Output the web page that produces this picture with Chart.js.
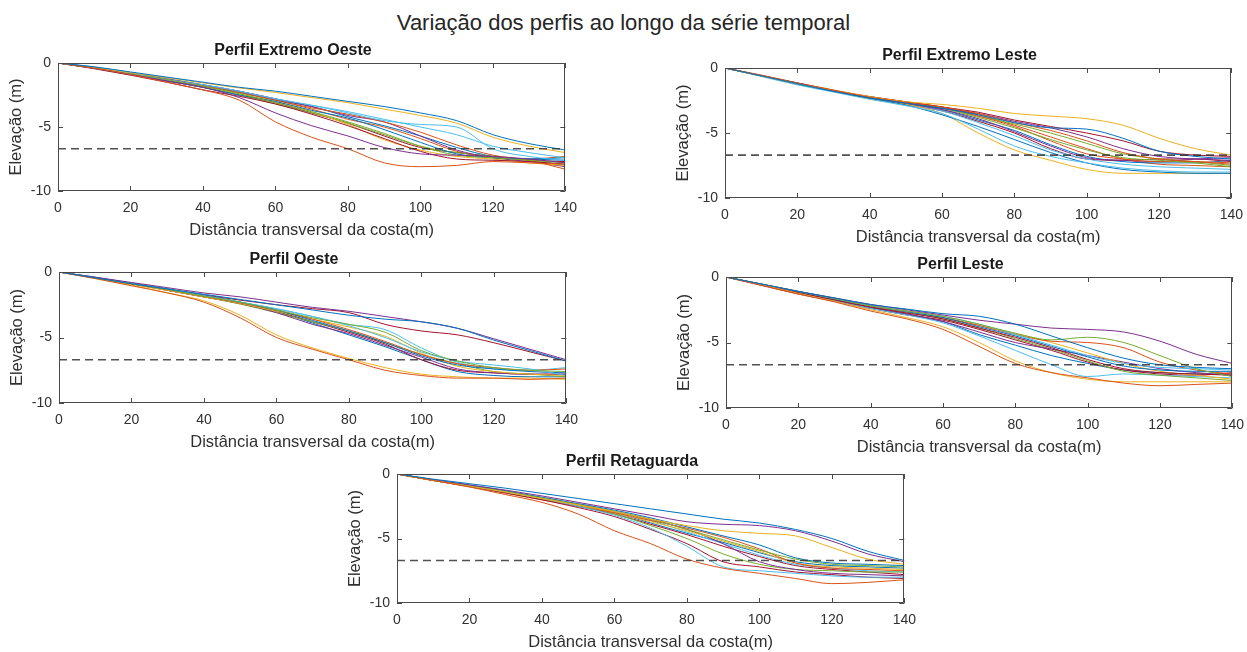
<!DOCTYPE html>
<html lang="pt">
<head>
<meta charset="utf-8">
<title>Variação dos perfis ao longo da série temporal</title>
<script src="https://cdn.jsdelivr.net/npm/chart.js@4.4.1/dist/chart.umd.min.js"></script>
<style>
  html, body { margin: 0; padding: 0; background: #fff; }
  #pagina { position: relative; width: 1247px; height: 652px; overflow: hidden; font-family: "Liberation Sans", Arial, sans-serif; }
  #titulo-geral { position: absolute; left: 0; width: 1247px; top: 10px; line-height: 26px; text-align: center; font-size: 22px; color: #262626; }
  .painel { position: absolute; }
</style>
</head>
<body>
<div id="pagina">
  <div id="titulo-geral">Variação dos perfis ao longo da série temporal</div>
  <div class="painel" id="p1"><canvas id="c1"></canvas></div>
  <div class="painel" id="p2"><canvas id="c2"></canvas></div>
  <div class="painel" id="p3"><canvas id="c3"></canvas></div>
  <div class="painel" id="p4"><canvas id="c4"></canvas></div>
  <div class="painel" id="p5"><canvas id="c5"></canvas></div>
</div>
<script>
// --- 1. Dados (distância em m, cota em m) ---
const distancias = [0, 10, 20, 30, 40, 50, 60, 70, 80, 90, 100, 110, 120, 130, 140];
const marcasX = [0, 20, 40, 60, 80, 100, 120, 140];
const marcasY = [-10, -5, 0];
const nivelReferencia = -6.7;

const perfilExtremoOeste = [
    [0, -0.3, -0.7, -1.1, -1.5, -1.9, -2.2, -2.6, -3.0, -3.4, -3.9, -4.5, -5.6, -6.3, -6.8],
    [0, -0.4, -0.9, -1.5, -2.1, -2.9, -4.6, -5.8, -6.7, -7.8, -8.1, -8.0, -7.7, -7.8, -7.9],
    [0, -0.35, -0.75, -1.15, -1.55, -1.95, -2.3, -2.7, -3.1, -3.6, -4.1, -4.7, -5.8, -6.5, -7.0],
    [0, -0.4, -0.9, -1.4, -1.9, -2.7, -3.9, -4.9, -5.7, -6.6, -7.1, -7.2, -7.3, -7.5, -7.8],
    [0, -0.4, -0.85, -1.3, -1.8, -2.4, -3.1, -3.8, -4.6, -5.5, -6.5, -7.2, -7.4, -7.6, -7.8],
    [0, -0.35, -0.8, -1.3, -1.7, -2.2, -2.8, -3.3, -3.9, -4.5, -4.8, -5.0, -6.7, -7.3, -7.6],
    [0, -0.45, -0.95, -1.5, -2.1, -2.6, -3.2, -4.0, -4.9, -5.9, -6.9, -7.5, -7.6, -7.7, -7.9],
    [0, -0.4, -0.9, -1.4, -1.9, -2.5, -3.0, -3.7, -4.3, -5.2, -6.2, -7.1, -7.4, -7.5, -7.6],
    [0, -0.4, -0.85, -1.3, -1.8, -2.3, -2.9, -3.5, -4.0, -4.6, -5.4, -6.4, -7.2, -7.6, -8.3],
    [0, -0.4, -0.9, -1.35, -1.85, -2.4, -3.0, -3.8, -4.8, -6.0, -6.8, -7.3, -7.5, -7.8, -8.0],
    [0, -0.35, -0.8, -1.25, -1.7, -2.2, -2.8, -3.4, -4.1, -4.6, -5.7, -6.8, -7.4, -7.7, -8.1],
    [0, -0.4, -0.9, -1.4, -1.9, -2.5, -3.2, -3.9, -4.7, -5.6, -6.5, -7.0, -7.3, -7.6, -8.0],
    [0, -0.3, -0.75, -1.2, -1.7, -2.2, -2.8, -3.3, -3.8, -4.4, -5.0, -5.6, -6.5, -7.0, -7.4],
    [0, -0.4, -0.9, -1.4, -1.9, -2.5, -3.1, -3.9, -4.7, -5.7, -6.6, -7.0, -7.3, -7.6, -7.7],
    [0, -0.4, -0.85, -1.35, -1.85, -2.3, -2.9, -3.4, -4.2, -4.9, -5.7, -6.6, -7.3, -7.5, -7.4],
    [0, -0.35, -0.8, -1.3, -1.75, -2.3, -2.9, -3.6, -4.4, -5.0, -5.9, -6.9, -7.4, -7.5, -7.3]
];

const perfilExtremoLeste = [
    [0, -0.6, -1.2, -1.8, -2.3, -2.7, -3.1, -3.6, -4.2, -4.6, -4.7, -5.4, -6.4, -6.8, -7.0],
    [0, -0.55, -1.15, -1.7, -2.25, -2.65, -3.0, -3.5, -4.2, -4.8, -5.6, -6.5, -7.0, -7.2, -7.4],
    [0, -0.6, -1.2, -1.7, -2.2, -2.6, -2.8, -3.1, -3.5, -3.7, -3.9, -4.4, -5.4, -6.2, -6.7],
    [0, -0.6, -1.2, -1.75, -2.3, -2.7, -3.1, -3.5, -4.1, -4.6, -5.3, -6.2, -6.8, -7.0, -7.1],
    [0, -0.6, -1.2, -1.75, -2.3, -2.7, -3.1, -3.8, -4.6, -5.5, -6.3, -6.9, -7.1, -7.3, -7.6],
    [0, -0.65, -1.3, -1.85, -2.4, -2.9, -3.5, -4.7, -6.0, -6.8, -7.3, -7.7, -7.9, -8.0, -8.0],
    [0, -0.6, -1.15, -1.75, -2.2, -2.6, -3.0, -3.4, -4.0, -4.5, -5.0, -5.6, -6.4, -6.7, -6.8],
    [0, -0.6, -1.25, -1.8, -2.35, -2.85, -3.6, -4.5, -5.5, -6.5, -7.3, -7.8, -8.0, -8.1, -8.1],
    [0, -0.55, -1.15, -1.7, -2.2, -2.6, -3.0, -3.7, -4.5, -5.6, -6.6, -7.0, -7.2, -7.2, -7.3],
    [0, -0.6, -1.25, -1.8, -2.4, -2.8, -3.5, -5.0, -6.3, -7.1, -7.8, -8.1, -8.1, -8.1, -8.1],
    [0, -0.6, -1.2, -1.8, -2.3, -2.75, -3.2, -3.9, -4.9, -6.0, -6.9, -7.1, -7.2, -7.0, -6.9],
    [0, -0.6, -1.2, -1.75, -2.3, -2.7, -3.1, -3.7, -4.3, -5.0, -5.8, -6.6, -7.0, -7.2, -7.5],
    [0, -0.6, -1.2, -1.8, -2.35, -2.8, -3.3, -4.2, -5.2, -6.3, -7.0, -7.4, -7.6, -7.7, -7.8],
    [0, -0.6, -1.2, -1.8, -2.3, -2.8, -3.3, -4.1, -5.0, -6.2, -7.0, -7.1, -7.0, -7.0, -7.2],
    [0, -0.6, -1.2, -1.75, -2.25, -2.7, -3.2, -4.0, -4.8, -5.9, -6.8, -7.2, -7.3, -7.3, -7.1],
    [0, -0.6, -1.2, -1.75, -2.3, -2.7, -3.0, -3.6, -4.4, -5.3, -6.2, -7.0, -7.4, -7.5, -7.6]
];

const perfilOeste = [
    [0, -0.45, -0.9, -1.3, -1.7, -2.1, -2.5, -2.9, -3.3, -3.6, -3.8, -4.3, -5.2, -6.0, -6.8],
    [0, -0.5, -1.05, -1.6, -2.3, -3.5, -5.0, -5.9, -6.7, -7.5, -7.9, -8.1, -8.1, -8.2, -8.1],
    [0, -0.5, -1.0, -1.6, -2.2, -3.3, -4.8, -5.8, -6.6, -7.3, -7.8, -8.0, -8.1, -8.1, -8.2],
    [0, -0.4, -0.8, -1.2, -1.6, -1.9, -2.3, -2.7, -3.0, -3.4, -3.8, -4.3, -5.1, -5.9, -6.7],
    [0, -0.45, -0.9, -1.35, -1.85, -2.3, -2.9, -3.5, -4.0, -4.6, -6.0, -6.8, -7.3, -7.5, -7.6],
    [0, -0.4, -0.85, -1.3, -1.8, -2.3, -2.8, -3.4, -4.1, -5.0, -6.1, -6.8, -7.1, -7.4, -7.9],
    [0, -0.45, -0.9, -1.3, -1.75, -2.15, -2.5, -2.8, -3.1, -4.0, -4.5, -4.8, -5.4, -6.1, -6.8],
    [0, -0.4, -0.85, -1.3, -1.8, -2.3, -2.9, -3.7, -4.5, -5.4, -6.4, -7.1, -7.4, -7.6, -7.7],
    [0, -0.45, -0.9, -1.35, -1.85, -2.35, -2.9, -3.6, -4.4, -5.3, -6.3, -7.0, -7.3, -7.5, -7.4],
    [0, -0.45, -0.95, -1.4, -1.9, -2.4, -3.0, -3.6, -4.2, -4.9, -6.2, -7.2, -7.6, -7.8, -7.9],
    [0, -0.45, -0.9, -1.4, -1.9, -2.4, -3.1, -4.0, -4.7, -5.6, -6.5, -7.4, -7.7, -7.8, -7.8],
    [0, -0.45, -0.9, -1.4, -1.9, -2.45, -3.1, -3.8, -4.5, -5.4, -6.3, -7.0, -7.6, -7.8, -8.0],
    [0, -0.4, -0.85, -1.3, -1.8, -2.3, -2.8, -3.4, -4.0, -4.4, -5.8, -6.9, -7.4, -7.5, -7.3],
    [0, -0.45, -0.9, -1.4, -1.9, -2.4, -3.0, -3.8, -4.6, -5.5, -6.7, -7.5, -7.7, -7.8, -7.8],
    [0, -0.45, -0.9, -1.35, -1.8, -2.3, -3.0, -3.9, -4.8, -5.7, -6.7, -7.6, -7.9, -8.0, -8.0]
];

const perfilLeste = [
    [0, -0.55, -1.1, -1.6, -2.1, -2.45, -2.8, -3.0, -3.6, -4.5, -5.4, -6.2, -6.7, -6.9, -7.0],
    [0, -0.65, -1.3, -1.9, -2.6, -3.2, -4.0, -5.3, -6.6, -7.3, -7.7, -8.1, -8.3, -8.2, -8.1],
    [0, -0.6, -1.25, -1.85, -2.5, -3.1, -3.8, -5.0, -6.4, -7.3, -7.8, -8.0, -8.0, -8.0, -8.0],
    [0, -0.55, -1.1, -1.6, -2.1, -2.5, -2.9, -3.3, -3.6, -3.9, -4.0, -4.2, -4.9, -5.9, -6.6],
    [0, -0.55, -1.1, -1.65, -2.2, -2.6, -3.0, -3.6, -4.3, -4.8, -4.6, -5.0, -6.0, -7.0, -7.6],
    [0, -0.55, -1.1, -1.65, -2.2, -2.6, -3.0, -3.6, -4.4, -5.2, -6.0, -6.6, -6.9, -7.0, -7.1],
    [0, -0.6, -1.2, -1.75, -2.3, -2.75, -3.2, -3.9, -4.6, -5.4, -6.3, -7.0, -7.3, -7.4, -7.5],
    [0, -0.55, -1.15, -1.7, -2.2, -2.65, -3.1, -3.8, -4.5, -5.3, -6.1, -6.8, -7.1, -7.2, -7.2],
    [0, -0.6, -1.2, -1.7, -2.25, -2.65, -3.1, -3.7, -4.4, -4.9, -5.0, -5.4, -6.5, -7.1, -7.4],
    [0, -0.55, -1.1, -1.65, -2.2, -2.6, -3.1, -3.7, -4.3, -5.0, -5.8, -6.6, -7.2, -7.5, -7.8],
    [0, -0.6, -1.2, -1.75, -2.3, -2.8, -3.4, -4.2, -5.0, -5.5, -6.0, -6.5, -7.0, -7.3, -7.5],
    [0, -0.6, -1.15, -1.7, -2.25, -2.7, -3.2, -3.9, -4.7, -5.5, -6.4, -7.2, -7.5, -7.7, -7.9],
    [0, -0.6, -1.2, -1.8, -2.4, -2.9, -3.5, -4.5, -5.6, -6.7, -7.6, -7.4, -7.5, -7.6, -7.7],
    [0, -0.65, -1.3, -1.85, -2.4, -2.9, -3.3, -4.0, -4.8, -5.6, -6.5, -7.1, -7.4, -7.5, -7.3],
    [0, -0.6, -1.2, -1.75, -2.35, -2.85, -3.4, -4.4, -5.2, -6.0, -6.6, -7.1, -7.3, -7.4, -7.4]
];

const perfilRetaguarda = [
    [0, -0.4, -0.75, -1.1, -1.5, -1.9, -2.3, -2.7, -3.1, -3.5, -3.8, -4.3, -5.0, -6.0, -6.7],
    [0, -0.5, -1.0, -1.6, -2.2, -3.1, -4.4, -5.4, -6.6, -7.3, -7.7, -8.1, -8.5, -8.4, -8.2],
    [0, -0.5, -0.95, -1.4, -1.9, -2.4, -2.9, -3.5, -4.0, -4.4, -4.6, -4.8, -5.7, -6.6, -7.0],
    [0, -0.45, -0.85, -1.25, -1.7, -2.2, -2.7, -3.2, -3.7, -3.9, -4.0, -4.4, -5.2, -6.2, -6.8],
    [0, -0.45, -0.9, -1.35, -1.85, -2.35, -2.9, -3.5, -4.3, -5.1, -5.9, -6.6, -7.0, -7.1, -7.2],
    [0, -0.45, -0.9, -1.4, -1.9, -2.5, -3.2, -4.2, -5.6, -7.2, -7.5, -7.7, -7.9, -8.0, -8.0],
    [0, -0.5, -0.95, -1.45, -2.0, -2.6, -3.3, -4.3, -5.4, -6.8, -7.2, -7.6, -7.8, -8.0, -8.1],
    [0, -0.45, -0.85, -1.3, -1.8, -2.3, -2.8, -3.4, -4.1, -4.8, -5.5, -6.5, -6.9, -7.0, -7.1],
    [0, -0.5, -1.0, -1.5, -2.0, -2.5, -3.0, -3.6, -4.2, -4.9, -5.8, -6.9, -7.3, -7.4, -7.5],
    [0, -0.5, -0.95, -1.4, -1.9, -2.4, -3.0, -3.7, -4.4, -5.2, -6.0, -6.9, -7.2, -7.3, -7.4],
    [0, -0.45, -0.9, -1.35, -1.85, -2.35, -2.9, -3.5, -4.3, -5.4, -6.8, -7.4, -7.7, -7.8, -7.9],
    [0, -0.5, -0.95, -1.45, -1.95, -2.45, -3.1, -4.0, -5.0, -6.2, -7.0, -7.4, -7.5, -7.6, -7.6],
    [0, -0.45, -0.9, -1.35, -1.85, -2.35, -2.9, -3.6, -4.5, -5.4, -6.3, -7.0, -7.3, -7.5, -7.6],
    [0, -0.5, -0.95, -1.45, -1.95, -2.5, -3.1, -3.9, -4.7, -5.6, -6.4, -7.1, -7.4, -7.6, -7.8],
    [0, -0.5, -0.95, -1.45, -1.95, -2.5, -3.0, -3.8, -4.6, -5.3, -6.1, -6.8, -7.1, -7.2, -7.3]
];

// --- 2. Aparência e posição de cada painel ---
const coresMatlab = ['#0072BD', '#D95319', '#EDB120', '#7E2F8E', '#77AC30', '#4DBEEE', '#A2142F'];
const fonte = '"Liberation Sans", Arial, sans-serif';
const corTexto = '#303030';

const paineis = [
    { id: 'c1', caixa: 'p1', titulo: 'Perfil Extremo Oeste', perfis: perfilExtremoOeste, area: { x: 58, y: 63, w: 507, h: 128 } },
    { id: 'c2', caixa: 'p2', titulo: 'Perfil Extremo Leste', perfis: perfilExtremoLeste, area: { x: 725, y: 68, w: 506, h: 130 } },
    { id: 'c3', caixa: 'p3', titulo: 'Perfil Oeste', perfis: perfilOeste, area: { x: 59, y: 272, w: 507, h: 131 } },
    { id: 'c4', caixa: 'p4', titulo: 'Perfil Leste', perfis: perfilLeste, area: { x: 726, y: 277, w: 506, h: 131 } },
    { id: 'c5', caixa: 'p5', titulo: 'Perfil Retaguarda', perfis: perfilRetaguarda, area: { x: 397, y: 474, w: 507, h: 129 } }
];

// Moldura fechada com marcas para dentro, como no MATLAB
const caixaMatlab = {
    id: 'caixaMatlab',
    afterDatasetsDraw(chart) {
        const { ctx, chartArea: a, scales: { x, y } } = chart;
        const t = 5;
        ctx.save();
        ctx.strokeStyle = '#4a4a4a';
        ctx.lineWidth = 1;
        ctx.beginPath();
        ctx.rect(Math.round(a.left) + 0.5, Math.round(a.top) + 0.5, Math.round(a.right - a.left) - 1, Math.round(a.bottom - a.top) - 1);
        x.ticks.forEach(tk => {
            const px = Math.round(x.getPixelForValue(tk.value)) + 0.5;
            ctx.moveTo(px, a.bottom); ctx.lineTo(px, a.bottom - t);
            ctx.moveTo(px, a.top); ctx.lineTo(px, a.top + t);
        });
        y.ticks.forEach(tk => {
            const py = Math.round(y.getPixelForValue(tk.value)) + 0.5;
            ctx.moveTo(a.left, py); ctx.lineTo(a.left + t, py);
            ctx.moveTo(a.right, py); ctx.lineTo(a.right - t, py);
        });
        ctx.stroke();
        ctx.restore();
    }
};

function montarDatasets(perfis) {
    const referencia = {
        data: [{ x: distancias[0], y: nivelReferencia }, { x: distancias[distancias.length - 1], y: nivelReferencia }],
        borderColor: 'rgba(50, 50, 50, 0.85)',
        borderWidth: 1.6,
        borderDash: [8, 5],
        pointRadius: 0
    };
    const linhas = perfis.map((cotas, i) => ({
        data: distancias.map((d, j) => ({ x: d, y: cotas[j] })),
        borderColor: coresMatlab[i % coresMatlab.length],
        borderWidth: 1,
        pointRadius: 0,
        cubicInterpolationMode: 'monotone'
    }));
    return [referencia, ...linhas];
}

function desenharPainel(painel) {
    const canvas = document.getElementById(painel.id);
    const caixa = document.getElementById(painel.caixa);
    canvas.width = painel.area.w + 70;
    canvas.height = painel.area.h + 71;

    const grafico = new Chart(canvas, {
        type: 'line',
        data: { datasets: montarDatasets(painel.perfis) },
        options: {
            responsive: false,
            maintainAspectRatio: false,
            animation: false,
            layout: { padding: 0 },
            plugins: {
                legend: { display: false },
                tooltip: { enabled: false },
                title: {
                    display: true,
                    text: painel.titulo,
                    color: '#1a1a1a',
                    font: { family: fonte, size: 16, weight: 'bold', lineHeight: '18px' },
                    padding: { top: 0, bottom: 3 }
                }
            },
            scales: {
                x: {
                    type: 'linear', min: 0, max: 140,
                    afterBuildTicks: s => { s.ticks = marcasX.map(v => ({ value: v })); },
                    afterFit: s => { s.height = 50; },
                    grid: { display: false, drawTicks: false },
                    border: { display: false },
                    ticks: { padding: 9, color: corTexto, maxRotation: 0, autoSkip: false, font: { family: fonte, size: 14 } },
                    title: { display: true, text: 'Distância transversal da costa(m)', color: corTexto, font: { family: fonte, size: 16.5 }, padding: { top: 0, bottom: 1 } }
                },
                y: {
                    min: -10, max: 0,
                    afterBuildTicks: s => { s.ticks = marcasY.map(v => ({ value: v })); },
                    afterFit: s => { s.width = 58; },
                    grid: { display: false, drawTicks: false },
                    border: { display: false },
                    ticks: { padding: 7, color: corTexto, font: { family: fonte, size: 14 } },
                    title: { display: true, text: 'Elevação (m)', color: corTexto, font: { family: fonte, size: 16.5 }, padding: { top: 7, bottom: 0 } }
                }
            }
        },
        plugins: [caixaMatlab]
    });

    // ajusta o tamanho para que a área de plotagem caia no mesmo lugar da figura
    let a = grafico.chartArea;
    const dw = painel.area.w - (a.right - a.left);
    const dh = painel.area.h - (a.bottom - a.top);
    if (Math.abs(dw) > 0.5 || Math.abs(dh) > 0.5) {
        grafico.resize(Math.round(canvas.width + dw), Math.round(canvas.height + dh));
        a = grafico.chartArea;
    }
    caixa.style.left = Math.round(painel.area.x - a.left) + 'px';
    caixa.style.top = Math.round(painel.area.y - a.top) + 'px';
}

// --- 3. Desenha todos os painéis ---
paineis.forEach(desenharPainel);
</script>
</body>
</html>
